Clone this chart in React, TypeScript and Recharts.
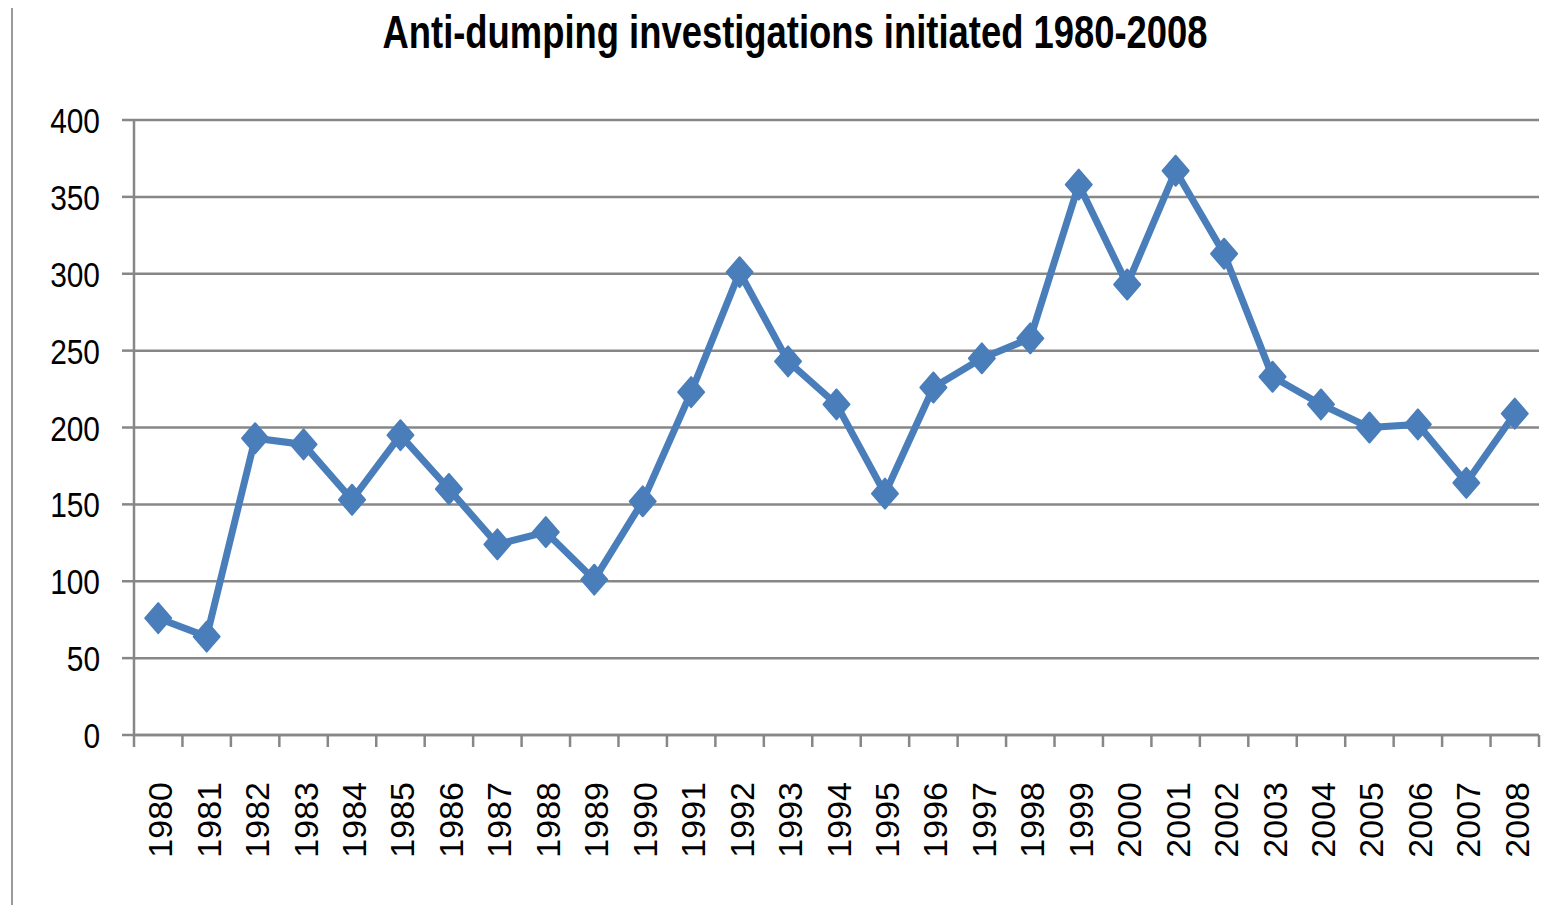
import React from "react";
import { CartesianGrid, Line, LineChart, XAxis, YAxis } from "recharts";

const years = [
  "1980", "1981", "1982", "1983", "1984", "1985", "1986", "1987", "1988", "1989",
  "1990", "1991", "1992", "1993", "1994", "1995", "1996", "1997", "1998", "1999",
  "2000", "2001", "2002", "2003", "2004", "2005", "2006", "2007", "2008",
];

const investigations = [
  76, 64, 193, 189, 153, 195, 160, 124, 132, 101,
  152, 223, 301, 243, 215, 157, 226, 245, 258, 358,
  293, 367, 313, 233, 215, 200, 202, 164, 209,
];

const yTicks = [0, 50, 100, 150, 200, 250, 300, 350, 400];

const data = years.map((year, i) => ({ year, value: investigations[i] }));

const W = 1568;
const H = 913;
const LEFT = 134;
const RIGHT = 1539;
const HALF_BAND = (RIGHT - LEFT) / years.length / 2;
const BLUE = "#4A7EBB";
const GRAY = "#878787";
const sans = "'Liberation Sans', Arial, sans-serif";

const Diamond = (props: any) => {
  const { cx, cy } = props;
  if (cx == null || cy == null) return null;
  return (
    <path
      d={`M${cx},${cy - 15} L${cx + 13},${cy} L${cx},${cy + 15} L${cx - 13},${cy} Z`}
      fill={BLUE}
      stroke={BLUE}
      strokeWidth={2}
      strokeLinejoin="round"
    />
  );
};

const XTick = (props: any) => {
  const { x, y, payload, index } = props;
  return (
    <g>
      <line x1={x - HALF_BAND} y1={y} x2={x - HALF_BAND} y2={y + 12} stroke={GRAY} strokeWidth={2.5} />
      {index === years.length - 1 && (
        <line x1={x + HALF_BAND} y1={y} x2={x + HALF_BAND} y2={y + 12} stroke={GRAY} strokeWidth={2.5} />
      )}
      <text
        transform={`translate(${x + 2},${y + 47}) rotate(-90)`}
        textAnchor="end"
        dominantBaseline="central"
        fontFamily={sans}
        fontSize={34}
        fill="#000"
      >
        {payload.value}
      </text>
    </g>
  );
};

const YTick = (props: any) => {
  const { x, y, payload } = props;
  return (
    <text
      transform={`translate(${x},${y + 13}) scale(0.83,1)`}
      textAnchor="end"
      fontFamily={sans}
      fontSize={36}
      fill="#000"
    >
      {payload.value}
    </text>
  );
};

export default function App() {
  return (
    <div style={{ position: "relative", margin: -8, width: W, height: H, background: "#fff" }}>
      <div
        style={{
          position: "absolute",
          left: 11,
          top: 0,
          width: 2,
          height: H,
          background: "#9a9a9a",
        }}
      />
      <LineChart
        width={W}
        height={H}
        data={data}
        margin={{ top: 120, right: W - RIGHT, bottom: 0, left: 0 }}
      >
        <text
          x={795}
          y={48}
          textAnchor="middle"
          fontFamily="'Liberation Sans Narrow', 'Liberation Sans', Arial, sans-serif"
          fontWeight="bold"
          fontSize={46}
          textLength={825}
          lengthAdjust="spacingAndGlyphs"
          fill="#000"
        >
          Anti-dumping investigations initiated 1980-2008
        </text>
        <CartesianGrid vertical={false} stroke={GRAY} strokeWidth={2.5} />
        <XAxis
          dataKey="year"
          height={H - 735}
          padding={{ left: HALF_BAND, right: HALF_BAND }}
          axisLine={{ stroke: GRAY, strokeWidth: 2.5 }}
          tickLine={false}
          tickSize={0}
          tickMargin={0}
          tick={<XTick />}
          interval={0}
        />
        <YAxis
          width={LEFT}
          domain={[0, 400]}
          ticks={yTicks}
          axisLine={{ stroke: GRAY, strokeWidth: 2.5 }}
          tickLine={{ stroke: GRAY, strokeWidth: 2.5 }}
          tickSize={12}
          tickMargin={22}
          tick={<YTick />}
        />
        <Line
          type="linear"
          dataKey="value"
          stroke={BLUE}
          strokeWidth={7}
          dot={<Diamond />}
          activeDot={false}
          isAnimationActive={false}
        />
      </LineChart>
    </div>
  );
}
